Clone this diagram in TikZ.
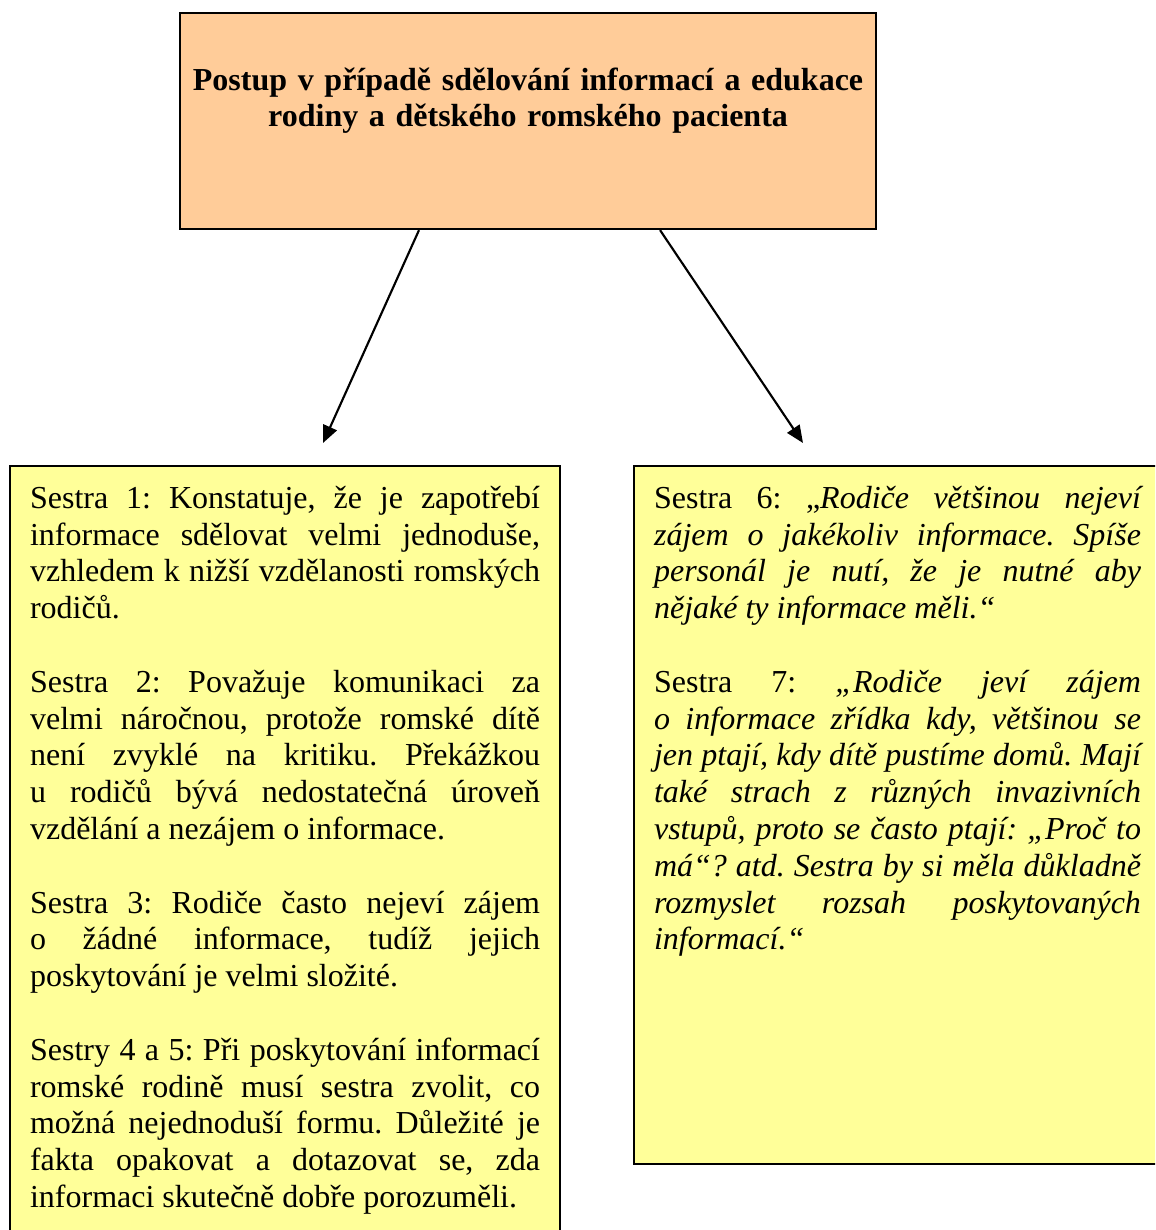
\documentclass[tikz,border=0pt]{standalone}
\usepackage{fontspec}
\setmainfont{Liberation Serif}
\usetikzlibrary{arrows.meta}

\definecolor{titlefill}{HTML}{FFCC99}
\definecolor{notefill}{HTML}{FFFF99}

\frenchspacing
\hyphenpenalty=10000
\exhyphenpenalty=10000
\tolerance=10000

\tikzset{
  titlebox/.style={draw=black, line width=0.8pt, fill=titlefill, inner sep=0pt,
    minimum width=261pt, minimum height=81pt, text width=255pt, align=center,
    font={\fontsize{12}{13.8}\selectfont\bfseries}},
  notebox/.style={draw=black, line width=0.8pt, fill=notefill,
    inner xsep=7.5pt, inner ysep=7.5pt, align=justify,
    font={\fontsize{12}{13.8}\selectfont}},
  arr/.style={line width=0.8pt, -{Triangle[length=6.5pt,width=5.5pt]}}
}

\begin{document}
\begin{tikzpicture}[x=0.375pt, y=-0.375pt]
  \useasboundingbox (0,0) rectangle (1155,1230);
  \clip (0,0) rectangle (1155,1230);
  \fill[white] (0,0) rectangle (1155,1230);

  \node[titlebox, anchor=north west] (title) at (179,12)
    {Postup v případě sdělování informací a edukace\\
     rodiny a dětského romského pacienta\\ \strut};

  \node[notebox, anchor=north west, text width=191.25pt] (nurses) at (9,465)
    {Sestra 1: Konstatuje, že je zapotřebí\linebreak
     informace sdělovat velmi jednoduše,\linebreak
     vzhledem k nižší vzdělanosti romských\linebreak
     rodičů.\\[\baselineskip]
     Sestra 2: Považuje komunikaci za\linebreak
     velmi náročnou, protože romské dítě\linebreak
     není zvyklé na kritiku. Překážkou\linebreak
     u rodičů bývá nedostatečná úroveň\linebreak
     vzdělání a nezájem o informace.\\[\baselineskip]
     Sestra 3: Rodiče často nejeví zájem\linebreak
     o žádné informace, tudíž jejich\linebreak
     poskytování je velmi složité.\\[\baselineskip]
     Sestry 4 a 5: Při poskytování informací\linebreak
     romské rodině musí sestra zvolit, co\linebreak
     možná nejednoduší formu. Důležité je\linebreak
     fakta opakovat a dotazovat se, zda\linebreak
     informaci skutečně dobře porozuměli.\par\hbox{}};

  \node[notebox, anchor=north west, text width=182.6pt] (quotes) at (633,465)
    {Sestra 6: „{\itshape Rodiče většinou nejeví\linebreak
     zájem o jakékoliv informace. Spíše\linebreak
     personál je nutí, že je nutné aby\linebreak
     nějaké ty informace měli.“}\\[\baselineskip]
     Sestra 7: {\itshape „Rodiče jeví zájem\linebreak
     o informace zřídka kdy, většinou se\linebreak
     jen ptají, kdy dítě pustíme domů. Mají\linebreak
     také strach z různých invazivních\linebreak
     vstupů, proto se často ptají: „Proč to\linebreak
     má“? atd. Sestra by si měla důkladně\linebreak
     rozmyslet rozsah poskytovaných\linebreak
     informací.“}\par\vspace*{59pt}\hbox{}};

  \coordinate (tipl) at (323,443);
  \coordinate (tipr) at (803,443);
  \draw[arr] ([xshift=-40.9pt]title.south) -- (tipl);
  \draw[arr] ([xshift=49.5pt]title.south) -- (tipr);
\end{tikzpicture}
\end{document}
